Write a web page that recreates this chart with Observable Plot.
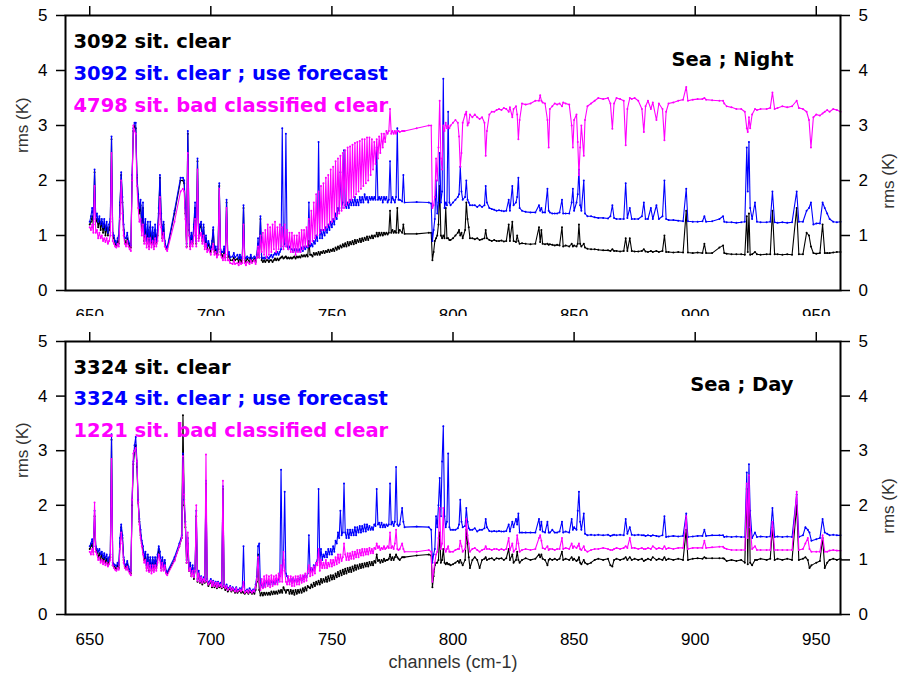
<!DOCTYPE html>
<html><head><meta charset="utf-8">
<script src="https://cdn.jsdelivr.net/npm/d3@7"></script>
<script src="https://cdn.jsdelivr.net/npm/@observablehq/plot@0.6"></script>
<style>
body{margin:0;background:#fff}
#chart{width:899px;height:680px;position:relative;overflow:hidden;background:#fff}
#chart svg{display:block}
</style>
</head><body><div id="chart"></div>
<script>
const xTicks = [650, 700, 750, 800, 850, 900, 950];
const yTicks = [0, 1, 2, 3, 4, 5];
const seriesColors = ["#000000", "#0000ff", "#ff00ff"];
const nightLegend = ["3092 sit. clear", "3092 sit. clear ; use forecast", "4798 sit. bad classified clear"];
const dayLegend = ["3324 sit. clear", "3324 sit. clear ; use forecast", "1221 sit. bad classified clear"];
const nightTitle = "Sea ; Night";
const dayTitle = "Sea ; Day";
const yLabel = "rms (K)";
const xLabel = "channels (cm-1)";

// ---------- Sea ; Night ----------
const nightX = [
650,650.5,651,651.5,652,652.5,653,653.5,654,654.5,
655,655.5,656,656.5,657,657.5,658,658.5,659,659.5,
660,660.5,661,661.5,662,662.5,663,663.5,664,664.5,
665,665.5,666,666.5,667,667.5,668,668.5,669,669.5,
670,670.5,671,671.5,672,672.5,673,673.5,674,674.5,
675,675.5,676,676.5,677,677.5,678,678.5,679,679.5,
680,680.5,681,681.5,682,685,687.5,688.5,689,689.5,
690,690.5,691,691.5,692,692.5,693,693.5,694,694.5,
695,695.5,696,696.5,697,697.5,698,698.5,699,700,
700.5,701,701.5,702,702.5,703,703.5,704,704.5,705,
705.5,706,706.5,707,707.5,708,709,709.5,710,711,
711.5,712,712.5,713,713.5,714,714.5,715,716,716.5,
717,718,718.5,719,719.5,720,720.5,721,721.5,722,
722.5,723,723.5,724,724.5,725,725.5,726,726.5,727,
727.5,728,728.5,729,729.5,730,730.5,731,731.5,732,
732.5,733,733.5,734,734.5,735,735.5,736,736.5,737,
737.5,738,738.5,739,739.5,740,740.5,741,741.5,742,
742.5,743,743.5,744,744.5,745,745.5,746,746.5,747,
747.5,748,748.5,749,749.5,750,750.5,751,751.5,752,
752.5,753,753.5,754,754.5,755,755.5,756,756.5,757,
757.5,758,758.5,759,759.5,760,760.5,761,761.5,762,
762.5,763,763.5,764,764.5,765,765.5,766,766.5,767,
767.5,768,768.5,769,769.5,770,770.5,771,771.5,772,
772.5,773,773.5,774,774.5,775,775.5,776,776.5,777,
777.5,778,779,779.5,780,785,790,791,791.5,792,
792.5,793,793.5,794,794.5,795,795.5,796,796.5,797,
797.5,798,798.5,799,800,801,802,802.5,803,803.5,
804,805,805.5,806,806.5,807,808,809,810,811,
812,813,813.5,814,815,816,817,818,819,820,
821,822,823,823.5,824.5,825,826,826.5,827,827.5,
828.5,830,832,834,835.5,836,836.5,837,838,839,
839.5,840,841,842,843,844,845,845.5,846.5,848,
849,849.5,850,851,851.5,852,852.5,853,854,854.5,
855.5,857,858.5,860,862,864,865,865.8,866.5,867.5,
869,870.5,871.3,872,873,873.8,875,876.5,878,878.8,
879.5,880.5,881.7,882.5,884,885,886.5,887.3,888,889,
891,893,895,896.3,897,899,901,903,903.8,904.5,
907,910,911.5,912,913,915,917,919,920.5,921.3,
921.7,922.2,922.7,923.5,924.7,925.5,927,929.5,931,931.9,
932.8,934,936,938,940,941.9,942.8,944.5,946,947,
947.8,948.8,950,951.5,952.6,953.5,954.5,955.5,957,958.5,960];
const nightClear = [
1.20,1.25,1.35,1.20,2.15,1.25,1.30,1.15,1.30,1.10,
1.25,1.05,1.20,1.00,1.15,1.00,1.10,1.25,2.75,1.00,
0.95,0.85,0.80,0.90,0.85,1.55,2.10,1.60,1.10,0.90,
0.85,0.95,0.85,0.80,0.78,2.00,2.90,3.00,2.95,2.05,
1.70,1.40,1.55,1.10,1.50,0.90,1.20,0.85,1.10,0.80,
1.15,0.85,1.05,0.80,1.10,0.85,1.00,1.40,2.05,1.30,
0.95,1.20,0.85,0.78,0.75,1.40,2.00,2.00,1.95,1.40,
0.80,2.85,1.10,0.80,1.00,0.85,1.15,1.50,0.85,2.35,
0.95,1.15,1.20,0.90,1.15,0.80,0.95,0.75,0.85,0.70,
0.85,1.10,0.70,0.75,0.65,0.75,1.90,0.70,0.65,0.60,
0.75,0.60,1.60,0.60,0.65,0.55,0.55,0.60,0.55,0.58,
0.52,0.60,0.52,0.58,1.50,0.55,0.52,0.58,0.52,0.60,
0.52,0.58,0.52,0.60,0.85,0.60,1.30,0.55,0.52,0.55,
0.52,0.55,0.55,0.52,0.55,0.55,0.52,0.55,0.58,0.55,
0.58,0.55,0.58,0.60,0.62,0.58,0.60,0.62,0.58,0.60,
0.58,0.60,0.58,0.60,0.62,0.58,0.62,0.60,0.62,0.60,
0.64,0.62,0.64,0.62,0.65,0.62,0.90,0.65,0.65,0.62,
0.68,0.65,0.68,0.65,0.70,0.65,0.70,0.68,0.72,0.68,
0.72,0.70,0.74,0.70,0.74,0.72,0.76,0.72,0.78,0.74,
0.80,0.76,0.82,0.78,0.84,0.80,0.86,0.80,0.88,0.82,
0.88,0.84,0.90,0.84,0.92,0.86,0.92,0.88,0.94,0.88,
0.95,0.90,0.96,0.92,0.98,0.92,0.98,0.95,1.00,0.95,
1.00,0.98,1.05,0.98,1.05,1.00,1.05,1.00,1.05,1.02,
1.05,1.02,1.05,1.45,1.05,1.10,1.05,1.08,1.05,1.50,
1.05,1.10,1.05,1.20,1.03,1.03,1.05,1.05,0.55,0.70,
0.90,0.95,1.00,1.20,1.90,1.00,0.95,1.00,0.95,1.50,
0.95,0.95,0.92,0.92,0.95,1.00,1.05,1.10,1.00,1.05,
0.95,1.10,1.60,1.30,1.15,0.95,0.95,0.93,0.95,0.92,
0.93,0.95,1.10,0.95,0.92,0.90,0.92,0.90,0.90,0.91,
0.89,0.90,1.20,0.90,1.25,0.90,0.88,1.00,0.90,0.85,
0.86,0.85,0.84,0.85,1.15,0.88,1.10,0.85,0.84,0.85,
0.83,0.84,0.83,0.82,0.83,0.82,1.15,0.80,0.82,0.80,
0.85,0.80,0.82,0.80,0.85,1.20,0.85,0.80,0.85,0.78,
0.76,0.75,0.75,0.74,0.73,0.73,0.72,0.75,0.72,0.72,
0.71,0.72,0.95,0.72,0.95,0.72,0.71,0.71,0.72,0.75,
0.71,0.70,0.72,0.70,0.72,0.70,0.72,1.00,0.70,0.70,
0.69,0.70,0.69,1.45,0.69,0.68,0.69,0.68,0.85,0.68,
0.68,0.78,0.82,0.68,0.67,0.66,0.66,0.66,0.65,1.35,
0.70,1.40,0.65,0.66,0.70,0.66,0.65,0.66,0.66,1.45,
0.66,0.66,0.65,0.66,0.65,1.50,0.66,0.66,1.05,1.00,
0.80,0.68,0.67,0.68,1.20,0.68,0.68,0.68,0.69,0.70,0.70];
const nightForecast = [
1.25,1.35,1.50,1.30,2.20,1.30,1.40,1.25,1.35,1.20,
1.30,1.15,1.30,1.10,1.25,1.05,1.20,1.30,2.80,1.05,
1.00,0.90,0.85,0.95,1.00,1.60,2.15,1.70,1.20,0.95,
0.95,1.05,0.90,0.85,0.82,2.10,2.95,3.05,3.05,2.10,
1.75,1.50,1.65,1.20,1.60,1.00,1.30,0.90,1.25,0.85,
1.25,0.90,1.15,0.85,1.20,0.90,1.10,1.50,2.10,1.40,
1.05,1.25,0.90,0.80,0.78,1.45,2.05,2.05,2.00,1.50,
0.85,2.90,1.20,0.85,1.05,0.90,1.20,1.60,0.90,2.40,
1.00,1.20,1.25,0.95,1.20,0.85,1.00,0.80,0.90,0.75,
0.90,1.15,0.75,0.80,0.70,0.80,1.95,0.75,0.70,0.70,
0.80,0.65,1.65,0.65,0.70,0.60,0.62,0.68,0.60,0.65,
0.58,0.65,0.58,0.62,1.55,0.60,0.58,0.62,0.58,0.65,
0.58,0.62,0.58,0.65,0.95,0.65,1.35,0.60,0.58,0.60,
0.58,0.62,0.60,0.58,0.62,0.65,0.60,0.65,0.68,0.65,
0.70,0.65,0.70,0.75,2.95,0.80,0.85,2.85,0.80,0.75,
0.80,0.75,0.75,0.70,0.75,0.70,0.75,0.72,0.75,0.70,
0.78,0.72,0.80,0.75,0.80,0.78,1.60,0.80,0.85,0.80,
0.90,0.85,1.00,0.90,2.70,0.95,1.10,0.95,1.10,1.00,
1.15,1.05,1.20,1.10,1.25,1.15,1.30,1.20,1.40,1.30,
1.50,1.45,2.15,1.50,1.60,2.55,1.55,1.50,1.60,1.50,
1.65,1.55,1.65,1.55,1.70,1.55,1.65,1.55,1.70,1.60,
1.70,1.60,1.75,1.65,1.70,1.60,1.70,1.65,1.70,1.65,
1.70,1.65,2.60,1.65,1.70,1.65,1.70,1.60,1.70,1.65,
1.70,1.60,1.65,2.35,1.60,1.70,1.65,1.60,1.70,2.95,
1.65,1.65,1.62,2.10,1.60,1.61,1.60,1.58,0.90,1.10,
1.30,2.00,1.40,1.60,2.50,1.60,1.80,3.85,1.50,1.60,
1.55,3.25,1.60,1.55,1.60,1.65,1.70,1.75,2.25,1.80,
1.65,1.70,2.00,1.65,1.60,1.55,1.55,1.55,1.52,1.55,
1.52,1.55,1.90,1.60,1.50,1.48,1.47,1.45,1.46,1.45,
1.44,1.45,1.65,1.45,1.90,1.55,1.60,1.70,2.05,1.50,
1.45,1.43,1.42,1.42,1.55,1.45,1.50,1.42,1.42,1.85,
1.45,1.42,1.40,1.40,1.40,1.42,1.65,1.40,1.40,1.40,
1.60,1.85,1.45,1.60,1.75,2.20,1.55,1.45,2.00,1.40,
1.35,1.35,1.33,1.32,1.32,1.31,1.35,1.55,1.32,1.30,
1.30,1.30,1.95,1.32,1.50,1.30,1.30,1.30,1.35,1.60,
1.30,1.30,1.50,1.30,1.55,1.30,1.35,2.00,1.30,1.28,
1.28,1.27,1.26,1.85,1.26,1.25,1.25,1.26,1.35,1.25,
1.26,1.30,1.35,1.25,1.24,1.24,1.23,1.24,1.25,2.60,
1.80,2.70,1.50,1.30,1.60,1.25,1.24,1.24,1.25,1.80,
1.24,1.23,1.24,1.23,1.24,1.80,1.25,1.25,1.45,1.50,
1.60,1.20,1.22,1.22,1.60,1.50,1.40,1.30,1.25,1.24,1.25];
const nightBad = [
1.15,1.10,1.20,1.05,1.90,1.05,1.10,0.95,1.05,0.95,
1.00,0.90,0.95,0.88,0.95,0.85,0.90,1.00,2.50,0.90,
0.85,0.80,0.78,0.85,0.80,1.30,2.00,1.40,1.00,0.85,
0.80,0.90,0.80,0.75,0.72,2.00,3.00,2.90,2.85,1.90,
1.50,1.25,1.30,1.00,1.20,0.85,1.00,0.78,0.95,0.75,
0.95,0.78,0.90,0.75,0.95,0.80,0.90,1.20,1.70,1.15,
0.90,1.05,0.80,0.75,0.72,1.25,1.80,1.85,1.80,1.30,
0.78,2.50,1.00,0.75,0.90,0.80,1.00,1.30,0.80,2.20,
0.90,1.00,1.05,0.85,1.00,0.75,0.85,0.70,0.75,0.65,
0.75,0.85,0.65,0.70,0.60,0.65,1.85,0.65,0.60,0.55,
0.65,0.55,1.50,0.55,0.55,0.50,0.48,0.55,0.48,0.50,
0.46,0.52,0.48,0.50,1.20,0.50,0.46,0.52,0.48,0.55,
0.50,0.55,0.48,0.60,0.80,0.60,1.00,0.70,1.05,0.65,
1.10,0.60,1.20,0.65,1.15,0.70,1.20,0.75,1.25,0.70,
1.15,0.75,1.20,0.80,1.15,0.75,1.20,0.80,1.10,0.75,
1.05,0.70,1.05,0.70,1.00,0.65,1.00,0.70,1.05,0.70,
1.10,0.75,1.10,0.80,1.15,0.80,1.30,0.85,1.45,0.90,
1.60,0.95,1.75,1.00,1.80,1.05,1.90,1.10,1.95,1.10,
2.05,1.15,2.10,1.20,2.20,1.25,2.25,1.30,2.35,1.35,
2.40,1.40,2.45,1.45,2.50,1.50,2.55,1.55,2.60,1.60,
2.62,1.65,2.65,1.70,2.68,1.75,2.70,1.80,2.72,1.85,
2.75,1.90,2.75,1.95,2.78,2.00,2.78,2.10,2.75,2.20,
2.70,2.30,2.75,2.40,2.80,2.50,2.85,2.60,2.85,2.70,
2.90,2.85,2.90,3.30,2.85,2.90,2.85,2.90,2.85,2.90,
2.90,2.88,2.90,2.90,2.90,2.95,3.00,3.00,1.50,1.55,
1.70,2.40,2.00,2.60,3.45,2.40,2.20,3.00,2.90,3.05,
2.95,3.00,2.95,3.00,3.05,3.10,3.05,2.80,2.25,2.50,
3.05,3.20,3.25,3.00,3.05,3.20,3.15,3.20,3.15,3.12,
3.15,3.05,2.45,2.90,3.20,3.25,3.25,3.28,3.30,3.28,
3.32,3.30,3.25,3.33,3.15,3.30,3.35,3.20,2.75,3.10,
3.40,3.38,3.40,3.45,3.45,3.55,3.45,3.42,3.40,3.10,
2.60,3.30,3.35,3.40,3.38,3.40,3.35,3.42,3.40,3.38,
3.00,2.60,3.10,3.20,2.70,2.10,2.60,3.00,2.45,3.10,
3.35,3.40,3.45,3.50,3.48,3.50,3.40,2.94,3.40,3.50,
3.48,3.45,2.64,3.30,3.50,3.48,3.50,3.45,3.30,2.88,
3.35,3.45,3.30,3.42,3.10,3.40,3.30,2.73,3.25,3.40,
3.42,3.45,3.47,3.70,3.45,3.47,3.48,3.48,3.50,3.47,
3.46,3.45,3.45,3.40,3.35,3.33,3.30,3.30,3.25,2.95,
2.88,3.15,2.95,3.20,3.30,3.28,3.30,3.30,3.32,3.60,
3.30,3.32,3.35,3.33,3.35,3.45,3.32,3.30,3.25,3.10,
2.60,3.15,3.20,3.18,3.22,3.25,3.28,3.25,3.30,3.28,3.25];

// ---------- Sea ; Day ----------
const dayX = [
650,650.5,651,651.5,652,652.5,653,653.5,654,654.5,
655,655.5,656,656.5,657,657.5,658,658.5,659,659.5,
660,660.5,661,661.5,662,662.5,663,663.5,664,664.5,
665,665.5,666,666.5,667,667.5,668,668.5,669,669.5,
670,670.5,671,671.5,672,672.5,673,673.5,674,674.5,
675,675.5,676,676.5,677,677.5,678,678.5,679,679.5,
680,680.5,681,681.5,682,685,687,688,688.5,689,
689.5,690,690.5,691,691.5,692,692.5,693,693.5,694,
694.5,695,695.5,696,696.5,697,697.5,698,698.5,699,
700,700.5,701,701.5,702,702.5,703,703.5,704,704.5,
705,705.5,706,706.5,707,708,708.5,709,710,710.5,
711,712,712.5,713,713.5,714,715,715.5,716,717,
717.5,718,718.5,719,719.5,720,720.5,721,721.5,722,
722.5,723,723.5,724,724.5,725,725.5,726,726.5,727,
727.5,728,728.5,729,729.5,730,730.5,731,731.5,732,
732.5,733,733.5,734,734.5,735,735.5,736,736.5,737,
737.5,738,738.5,739,739.5,740,740.5,741,741.5,742,
742.5,743,743.5,744,744.5,745,745.5,746,746.5,747,
747.5,748,748.5,749,749.5,750,750.5,751,751.5,752,
752.5,753,753.5,754,754.5,755,755.5,756,756.5,757,
757.5,758,758.5,759,759.5,760,760.5,761,761.5,762,
762.5,763,763.5,764,764.5,765,765.5,766,766.5,767,
767.5,768,768.5,769,769.5,770,770.5,771,771.5,772,
772.5,773,773.5,774,774.5,775,775.5,776,776.5,777,
777.5,778,779,779.5,780,785,790,791,791.5,792,
792.5,793,793.5,794,794.5,795,795.5,796,796.5,797,
797.5,798,798.5,799,800,801,802,802.5,803,803.5,
804,805,805.5,806,806.5,807,808,809,810,811,
812,813,813.5,814,815,816,817,818,819,820,
821,822,823,823.5,824.5,825,826,826.5,827,827.5,
828.5,830,832,834,835.5,836,836.5,837,838,839,
839.5,840,841,842,843,844,845,845.5,846.5,848,
849,849.5,850,851,851.5,852,852.5,853,854,854.5,
855.5,857,858.5,860,862,864,865,865.8,866.5,867.5,
869,870.5,871.3,872,873,873.8,875,876.5,878,878.8,
879.5,880.5,881.7,882.5,884,885,886.5,887.3,888,889,
891,893,895,896.3,897,899,901,903,903.8,904.5,
907,910,911.5,912,913,915,917,919,920.5,921.3,
921.7,922.2,922.7,923.5,924.7,925.5,927,929.5,931,931.9,
932.8,934,936,938,940,941.9,942.8,944.5,945.5,946.5,
947.2,948,950,951.5,952.6,953.5,954.5,955.5,957,958.5,960];
const dayClear = [
1.20,1.25,1.30,1.15,1.80,1.20,1.15,1.05,1.12,1.00,
1.10,0.98,1.05,0.95,1.02,0.90,0.98,1.05,3.20,0.90,
0.88,0.85,0.82,0.90,0.85,1.30,1.60,1.40,1.00,0.88,
0.85,0.92,0.82,0.78,0.75,2.00,2.75,3.00,3.10,2.70,
2.05,1.70,1.45,1.30,1.15,1.00,1.10,0.85,1.05,0.80,
1.00,0.80,1.00,0.82,0.98,0.85,1.05,1.20,1.05,0.85,
1.00,0.82,0.95,0.78,0.75,1.00,1.25,1.40,3.65,2.00,
1.60,0.95,1.30,0.80,0.90,0.70,0.85,0.65,0.80,1.80,
0.60,0.75,0.58,0.65,0.55,0.62,0.58,2.40,0.60,0.52,
0.60,0.50,0.58,0.50,0.55,0.48,0.55,0.50,0.52,0.48,
2.30,0.50,0.45,0.50,0.42,0.48,0.42,0.46,0.40,0.45,
0.40,0.44,0.40,0.42,0.40,0.38,0.42,0.38,0.42,0.38,
0.42,0.38,0.45,0.60,1.10,0.45,0.35,0.40,0.35,0.40,
0.36,0.40,0.36,0.40,0.36,0.42,0.37,0.42,0.38,0.42,
0.38,0.44,0.40,0.45,0.40,0.50,0.45,0.40,0.45,0.45,
0.38,0.45,0.38,0.44,0.36,0.45,0.38,0.45,0.40,0.46,
0.40,0.48,0.42,0.50,0.44,0.52,0.50,0.48,0.55,0.50,
0.58,0.52,0.60,0.55,0.62,0.55,0.65,0.58,0.65,0.60,
0.68,0.60,0.70,0.62,0.72,0.64,0.72,0.65,0.75,0.68,
0.78,0.70,0.80,0.72,0.82,0.74,0.84,0.75,0.85,0.78,
0.86,0.78,0.88,0.80,0.90,0.82,0.90,0.84,0.92,0.85,
0.93,0.86,0.94,0.88,0.95,0.88,0.96,0.90,0.96,0.90,
0.98,0.95,1.10,0.98,1.00,0.95,1.00,0.96,1.02,0.98,
1.00,1.00,1.02,1.10,1.00,1.05,1.00,1.05,1.10,1.05,
1.02,1.00,1.05,1.05,1.05,1.08,1.10,1.08,0.50,0.70,
0.90,0.95,0.95,1.00,1.50,0.95,1.00,1.20,0.95,0.92,
0.95,0.92,0.92,0.90,0.92,0.95,0.98,0.95,1.00,0.95,
0.90,1.00,1.55,1.30,1.05,0.85,1.00,1.05,1.00,0.85,
1.00,1.02,1.05,1.00,1.02,1.03,1.00,1.03,1.02,1.03,
1.00,1.03,1.20,1.00,1.10,0.95,1.00,1.15,1.00,0.95,
1.00,1.03,1.00,1.02,1.10,1.05,1.10,1.02,1.00,0.90,
1.00,1.02,1.00,1.02,1.00,1.02,1.15,1.00,1.02,1.00,
1.05,1.00,1.02,0.98,1.00,1.05,0.95,0.92,1.00,0.95,
0.92,0.95,1.00,1.02,1.00,1.02,0.90,0.88,1.00,1.02,
1.00,1.02,1.05,1.00,1.05,1.00,1.02,1.00,1.02,0.98,
1.00,1.02,1.00,1.05,1.00,1.02,1.00,1.05,1.00,1.02,
1.00,1.02,1.00,1.55,1.00,1.02,1.03,1.02,1.05,1.03,
1.03,1.03,1.03,1.02,0.98,1.00,0.98,1.00,0.95,2.30,
0.92,2.40,0.95,0.90,1.00,1.00,1.02,1.00,1.02,1.60,
1.00,1.02,1.00,1.02,1.00,2.00,1.00,1.02,1.05,1.00,
0.85,0.90,0.95,0.98,1.40,0.85,0.95,1.00,1.02,1.00,1.02];
const dayForecast = [
1.25,1.30,1.38,1.25,1.90,1.25,1.20,1.15,1.20,1.10,
1.15,1.05,1.12,1.02,1.10,0.98,1.05,1.10,3.30,0.95,
0.92,0.90,0.88,0.95,0.90,1.40,1.65,1.45,1.05,0.92,
0.90,0.98,0.88,0.82,0.80,2.10,2.80,3.10,3.25,2.80,
2.10,1.75,1.55,1.35,1.25,1.05,1.15,0.90,1.10,0.85,
1.05,0.85,1.05,0.88,1.05,0.90,1.10,1.25,1.15,0.90,
1.05,0.88,1.00,0.80,0.78,1.05,1.30,1.45,2.95,2.10,
1.70,1.00,1.40,0.85,0.95,0.75,0.90,0.70,0.85,1.90,
0.65,0.80,0.62,0.70,0.60,0.68,0.62,2.45,0.65,0.58,
0.65,0.55,0.62,0.55,0.60,0.52,0.60,0.55,0.58,0.52,
2.35,0.55,0.50,0.55,0.48,0.52,0.46,0.50,0.45,0.50,
0.44,0.48,0.44,0.50,1.25,0.42,0.46,0.42,0.48,0.42,
0.46,0.42,0.55,0.70,1.25,1.30,0.50,0.55,0.50,0.60,
0.52,0.62,0.55,0.60,0.55,0.62,0.55,0.60,0.56,0.65,
0.58,0.65,0.70,2.65,0.80,1.00,2.25,0.75,0.70,0.65,
0.60,0.65,0.58,0.65,0.60,0.65,0.60,0.65,0.62,0.68,
0.62,0.70,0.65,0.72,0.68,0.75,1.45,0.80,0.85,0.80,
0.90,0.85,0.95,1.00,2.30,0.95,1.20,1.00,1.10,1.05,
1.15,1.05,1.20,1.10,1.20,1.10,1.25,1.15,1.35,1.30,
1.50,1.40,1.90,1.45,1.50,2.40,1.50,1.40,1.55,1.40,
1.55,1.45,1.55,1.45,1.60,1.45,1.60,1.50,1.62,1.50,
1.62,1.52,1.65,1.52,1.65,1.55,1.62,1.55,1.60,1.55,
1.65,1.62,2.30,1.65,1.68,1.60,1.68,1.60,1.65,1.60,
1.65,1.62,1.65,2.40,1.65,1.70,1.62,1.70,2.70,1.65,
1.62,1.65,1.95,1.70,1.60,1.61,1.60,1.55,0.95,1.10,
1.20,1.80,1.60,2.00,2.50,1.80,2.80,3.45,1.80,1.60,
1.70,2.95,1.60,1.55,1.55,1.55,1.58,1.65,2.10,1.70,
1.60,1.62,1.95,1.70,1.58,1.55,1.55,1.58,1.52,1.55,
1.55,1.58,1.75,1.60,1.53,1.52,1.53,1.52,1.53,1.52,
1.52,1.53,1.65,1.52,1.70,1.60,1.75,1.65,1.85,1.50,
1.50,1.50,1.50,1.50,1.75,1.55,1.70,1.52,1.50,1.70,
1.50,1.50,1.55,1.50,1.50,1.52,1.70,1.50,1.52,1.50,
1.75,1.55,1.60,1.55,1.90,2.25,1.70,1.55,1.85,1.48,
1.45,1.46,1.45,1.46,1.45,1.46,1.44,1.45,1.46,1.45,
1.46,1.45,1.75,1.48,1.60,1.46,1.45,1.46,1.45,1.45,
1.44,1.45,1.44,1.45,1.44,1.43,1.45,1.80,1.42,1.43,
1.44,1.43,1.44,1.85,1.42,1.43,1.44,1.44,1.55,1.44,
1.45,1.45,1.45,1.42,1.43,1.42,1.43,1.42,1.42,2.60,
1.60,2.75,1.90,1.40,1.50,1.42,1.43,1.42,1.43,1.95,
1.42,1.43,1.42,1.43,1.42,2.20,1.42,1.45,1.60,1.55,
1.50,1.35,1.38,1.40,1.75,1.50,1.48,1.45,1.46,1.45,1.45];
const dayBad = [
1.15,1.10,1.20,1.10,2.05,1.15,1.10,1.00,1.05,0.95,
1.00,0.92,0.98,0.90,0.95,0.88,0.92,1.00,2.85,0.90,
0.85,0.82,0.80,0.85,0.82,1.20,1.50,1.30,0.95,0.85,
0.82,0.88,0.80,0.75,0.72,2.10,2.95,3.00,3.05,2.80,
2.05,1.65,1.40,1.25,1.10,0.95,1.00,0.80,0.95,0.78,
0.90,0.75,0.90,0.78,0.90,0.80,0.95,1.10,1.00,0.80,
0.95,0.80,0.90,0.75,0.72,0.98,1.25,1.40,2.90,2.20,
1.65,0.95,1.50,0.80,0.85,0.70,0.80,0.68,0.80,2.00,
0.62,0.75,0.60,0.68,0.58,0.65,0.60,2.93,0.62,0.55,
0.62,0.52,0.60,0.52,0.58,0.50,0.58,0.52,0.55,0.50,
2.45,0.52,0.48,0.52,0.45,0.50,0.44,0.48,0.42,0.48,
0.42,0.46,0.42,0.45,0.60,0.40,0.44,0.40,0.45,0.40,
0.44,0.42,0.50,0.65,1.05,0.60,0.45,0.65,0.48,0.70,
0.50,0.72,0.52,0.70,0.50,0.72,0.52,0.70,0.55,0.72,
0.55,0.75,0.60,0.90,0.60,1.15,0.80,0.60,0.55,0.70,
0.55,0.70,0.52,0.68,0.52,0.70,0.55,0.70,0.55,0.72,
0.58,0.72,0.60,0.75,0.62,0.78,0.90,0.70,0.85,0.72,
0.88,0.75,0.95,0.90,1.20,0.80,1.00,0.85,0.95,0.85,
1.00,0.85,0.95,0.88,1.00,0.88,1.00,0.90,1.05,0.92,
1.10,0.95,1.10,0.98,1.05,1.30,1.10,1.00,1.12,1.00,
1.12,1.02,1.15,1.02,1.15,1.05,1.18,1.05,1.18,1.08,
1.20,1.08,1.20,1.10,1.20,1.10,1.22,1.12,1.20,1.12,
1.22,1.20,1.30,1.22,1.25,1.18,1.22,1.20,1.25,1.20,
1.22,1.25,1.22,1.50,1.22,1.25,1.20,1.30,1.55,1.20,
1.18,1.20,1.30,1.20,1.15,1.15,1.18,1.15,0.60,0.80,
0.95,1.10,1.15,1.40,1.95,1.20,1.30,1.95,1.20,1.15,
1.20,1.25,1.15,1.15,1.15,1.18,1.20,1.20,1.35,1.25,
1.15,1.20,1.75,1.45,1.30,1.15,1.20,1.22,1.18,1.15,
1.18,1.20,1.25,1.20,1.20,1.18,1.20,1.20,1.18,1.20,
1.18,1.20,1.40,1.18,1.30,1.15,1.20,1.45,1.30,1.15,
1.18,1.20,1.18,1.20,1.40,1.45,1.35,1.22,1.20,1.25,
1.18,1.20,1.20,1.18,1.20,1.20,1.40,1.20,1.22,1.20,
1.30,1.22,1.25,1.22,1.25,1.30,1.20,1.18,1.25,1.18,
1.15,1.18,1.20,1.20,1.22,1.20,1.18,1.18,1.20,1.22,
1.20,1.22,1.25,1.22,1.40,1.22,1.22,1.20,1.22,1.20,
1.20,1.22,1.20,1.25,1.20,1.22,1.20,1.25,1.20,1.22,
1.20,1.22,1.22,1.80,1.20,1.22,1.22,1.22,1.35,1.22,
1.23,1.24,1.24,1.22,1.20,1.18,1.18,1.18,1.18,2.40,
1.40,2.55,1.60,1.20,1.25,1.18,1.18,1.18,1.18,1.70,
1.18,1.18,1.18,1.18,1.18,2.25,1.18,1.20,1.30,1.40,
1.20,1.15,1.15,1.15,1.45,1.15,1.15,1.17,1.18,1.17,1.17];

const FONT = "'Liberation Sans', Arial, Helvetica, sans-serif";

function check(name, xs, arrs) {
  arrs.forEach((a, k) => { if (a.length !== xs.length) throw new Error(name + " series " + k + " length " + a.length + " vs " + xs.length); });
}

function panel(o) {
  check(o.name, o.xs, o.series);
  const marks = [];
  o.series.forEach((ys, k) => {
    const d = o.xs.map((x, i) => ({x, y: ys[i]}));
    marks.push(Plot.line(d, {x: "x", y: "y", stroke: seriesColors[k], strokeWidth: 1.1}));
    marks.push(Plot.dot(d, {x: "x", y: "y", r: 1, fill: seriesColors[k]}));
  });
  const intFmt = d => String(d);
  marks.push(Plot.axisY(yTicks, {anchor: "left", tickSize: 9, tickPadding: 9, fontSize: 17, strokeWidth: 1.5, tickFormat: intFmt, label: null}));
  marks.push(Plot.axisY(yTicks, {anchor: "right", tickSize: 9, tickPadding: 9, fontSize: 17, strokeWidth: 1.5, tickFormat: intFmt, label: null}));
  marks.push(Plot.axisX(xTicks, {anchor: "top", tickSize: 10, strokeWidth: 1.5, tickFormat: () => "", label: null}));
  marks.push(Plot.axisX(xTicks, {anchor: "bottom", tickSize: 0, tickPadding: 18, fontSize: 17, tickFormat: intFmt, label: null}));
  marks.push(Plot.frame({stroke: "black", strokeWidth: 2}));
  o.legend.forEach((t, i) => marks.push(Plot.text([t], {
    text: d => d, frameAnchor: "top-left", dx: 8, dy: o.legendDy[i], fill: seriesColors[i],
    fontFamily: "DejaVu Sans", fontWeight: "bold", fontSize: 19.5, textAnchor: "start", lineAnchor: "bottom"
  })));
  marks.push(Plot.text([o.title], {
    text: d => d, frameAnchor: "top-right", dx: -47, dy: o.titleDy, fill: "black",
    fontFamily: "DejaVu Sans", fontWeight: "bold", fontSize: 19.5, textAnchor: "end", lineAnchor: "bottom"
  }));
  marks.push(Plot.text([yLabel], {text: d => d, frameAnchor: "left", dx: -43, rotate: -90, fontSize: 17, fill: "#333"}));
  marks.push(Plot.text([yLabel], {text: d => d, frameAnchor: "right", dx: 48, rotate: -90, fontSize: 17, fill: "#333"}));
  if (o.xLabel) marks.push(Plot.text([o.xLabel], {text: d => d, frameAnchor: "bottom", dy: 53, fontSize: 18, fill: "#333"}));
  return Plot.plot({
    width: 899, height: o.height,
    marginTop: o.marginTop, marginBottom: o.marginBottom, marginLeft: 65, marginRight: 59,
    x: {domain: [640, 960], axis: null},
    y: {domain: [0, 5], axis: null},
    style: {fontFamily: FONT, fontSize: "17px", background: "white", overflow: "hidden"},
    marks
  });
}

const chart = document.getElementById("chart");
try {
  chart.append(panel({
    name: "night", xs: nightX, series: [nightClear, nightForecast, nightBad],
    legend: nightLegend, legendDy: [32, 64, 96], title: nightTitle, titleDy: 50,
    height: 316, marginTop: 15, marginBottom: 26
  }));
  chart.append(panel({
    name: "day", xs: dayX, series: [dayClear, dayForecast, dayBad],
    legend: dayLegend, legendDy: [32, 63, 95], title: dayTitle, titleDy: 49,
    height: 364, marginTop: 25, marginBottom: 66, xLabel
  }));
} catch (e) {
  chart.textContent = e.message;
  console.error(e);
}
</script>
</body></html>
